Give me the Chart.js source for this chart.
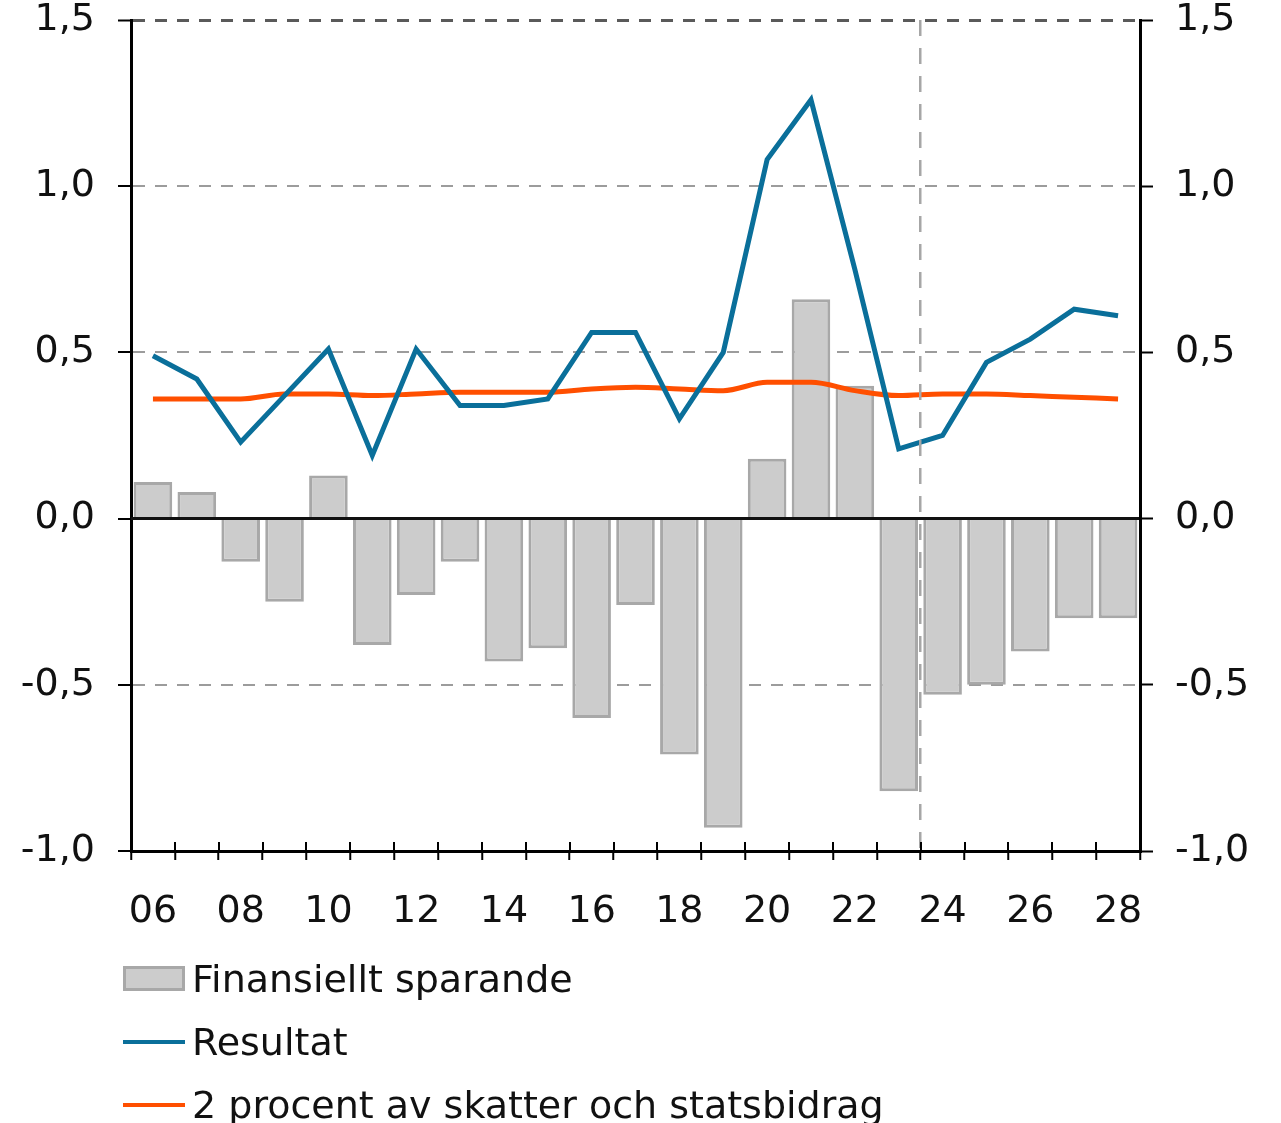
<!DOCTYPE html>
<html>
<head>
<meta charset="utf-8">
<script src="https://cdn.jsdelivr.net/npm/chart.js@4.4.1/dist/chart.umd.min.js"></script>
<style>
  html, body { margin: 0; padding: 0; background: #ffffff; }
  #wrap { position: relative; width: 1281px; height: 1123px; }
  #chart { position: absolute; left: 0; top: 0; }
  #legend { position: absolute; left: 123px; top: 947px; font-family: "DejaVu Sans", Verdana, sans-serif; font-size: 38px; color: #111; }
  .row { height: 63px; display: flex; align-items: center; }
  .sw { width: 62px; display: inline-block; box-sizing: border-box; }
  .txt { margin-left: 7px; white-space: nowrap; }
</style>
</head>
<body>
<div id="wrap">
  <canvas id="chart" width="1281" height="1123"></canvas>
  <div id="legend"></div>
</div>
<script>
// ---- data ----
const years = ['06','07','08','09','10','11','12','13','14','15','16','17','18','19','20','21','22','23','24','25','26','27','28'];
const sparande = [0.11, 0.08, -0.13, -0.25, 0.13, -0.38, -0.23, -0.13, -0.43, -0.39, -0.60, -0.26, -0.71, -0.93, 0.18, 0.66, 0.40, -0.82, -0.53, -0.50, -0.40, -0.30, -0.30];
const resultat = [0.49, 0.42, 0.23, 0.37, 0.51, 0.19, 0.51, 0.34, 0.34, 0.36, 0.56, 0.56, 0.30, 0.50, 1.08, 1.26, 0.75, 0.21, 0.25, 0.47, 0.54, 0.63, 0.61];
const tvaProcent = [0.36, 0.36, 0.36, 0.375, 0.375, 0.37, 0.375, 0.38, 0.38, 0.38, 0.39, 0.395, 0.39, 0.385, 0.41, 0.41, 0.385, 0.37, 0.375, 0.375, 0.37, 0.365, 0.36];
const yTickValues = [-1.0, -0.5, 0.0, 0.5, 1.0, 1.5];
const forecastStartIndex = 18; // boundary before '24'

const FONT = { family: "'DejaVu Sans', Verdana, sans-serif", size: 38, lineHeight: 1 };
const fmt = v => v.toFixed(1).replace('.', ',');

const innerTicks = {
  id: 'innerTicks',
  afterDraw(chart) {
    const xs = chart.scales.x, ctx = chart.ctx;
    const y = chart.chartArea.bottom;
    ctx.save();
    ctx.strokeStyle = '#000';
    ctx.lineWidth = 2;
    for (let i = 0; i <= years.length; i++) {
      const px = Math.round(xs.getPixelForValue(i - 0.5));
      ctx.beginPath();
      ctx.moveTo(px, y);
      ctx.lineTo(px, y - 9);
      ctx.stroke();
    }
    ctx.restore();
  }
};

const fixPad = s => { s.paddingTop = 18; s.paddingBottom = 18; };

const chart = new Chart(document.getElementById('chart'), {
  data: {
    labels: years,
    datasets: [
      {
        type: 'bar', label: 'Finansiellt sparande', data: sparande, yAxisID: 'y', order: 2,
        backgroundColor: '#cccccc', borderColor: '#a8a8a8', borderWidth: 3,
        barPercentage: 0.88, categoryPercentage: 1.0
      },
      {
        type: 'line', label: 'Resultat', data: resultat, yAxisID: 'y', order: 0,
        borderColor: '#0a6f9a', borderWidth: 5, pointRadius: 0, tension: 0, fill: false
      },
      {
        type: 'line', label: '2 procent av skatter och statsbidrag', data: tvaProcent, yAxisID: 'y', order: 1,
        borderColor: '#ff4f00', borderWidth: 5, pointRadius: 0, cubicInterpolationMode: 'monotone', fill: false
      }
    ]
  },
  options: {
    responsive: false,
    animation: false,
    events: [],
    layout: { padding: { top: 20, left: 0, right: 0, bottom: 192 } },
    plugins: { legend: { display: false }, tooltip: { enabled: false } },
    scales: {
      x: {
        type: 'category', offset: true,
        grid: {
          offset: true,
          color: c => (c.index === forecastStartIndex ? '#a6a6a6' : 'rgba(0,0,0,0)'),
          lineWidth: 2.5, tickColor: '#000', tickLength: 9, tickWidth: 2, z: 1
        },
        border: { color: '#000', width: 3, dash: [16, 12], z: 2 },
        ticks: {
          autoSkip: false, maxRotation: 0, minRotation: 0, padding: 33,
          font: FONT, color: '#111',
          callback: (v, i) => (i % 2 === 0 ? years[i] : '')
        },
        afterFit: s => { s.height = 80; }
      },
      y: {
        position: 'left', min: -1, max: 1.5,
        afterBuildTicks: s => { s.ticks = yTickValues.map(v => ({ value: v })); },
        ticks: { font: FONT, color: '#111', padding: 23, callback: v => fmt(v) },
        grid: {
          color: c => {
            const v = c.tick ? c.tick.value : null;
            if (v === 1.5) return '#5a5a5a';
            if (v === 0 || v === -1) return 'rgba(0,0,0,0)';
            return '#9c9c9c';
          },
          lineWidth: c => (c.tick && c.tick.value === 1.5 ? 3 : 2),
          tickColor: '#000', tickLength: 13, tickWidth: 2
        },
        border: { color: '#000', width: 3, dash: [12, 10] },
        afterFit: s => { s.width = 131; fixPad(s); }
      },
      y2: {
        position: 'right', min: -1, max: 1.5,
        afterBuildTicks: s => { s.ticks = yTickValues.map(v => ({ value: v })); },
        ticks: { font: FONT, color: '#111', padding: 22, callback: v => fmt(v) },
        grid: {
          color: c => (c.tick && c.tick.value === 0 ? '#111' : 'rgba(0,0,0,0)'),
          lineWidth: 3, tickColor: '#000', tickLength: 13, tickWidth: 2, z: 1
        },
        border: { color: '#000', width: 3, z: 2 },
        afterFit: s => { s.width = 141; fixPad(s); }
      }
    }
  },
  plugins: [innerTicks]
});

// HTML legend built from datasets
const legend = document.getElementById('legend');
const legendOrder = [0, 1, 2];
legendOrder.forEach(i => {
  const ds = chart.data.datasets[i];
  const row = document.createElement('div');
  row.className = 'row';
  const sw = document.createElement('span');
  sw.className = 'sw';
  if (ds.type === 'bar') {
    sw.style.height = '25px';
    sw.style.background = ds.backgroundColor;
    sw.style.border = '3px solid ' + ds.borderColor;
  } else {
    sw.style.height = '4px';
    sw.style.background = ds.borderColor;
  }
  const tx = document.createElement('span');
  tx.className = 'txt';
  tx.textContent = ds.label;
  row.appendChild(sw);
  row.appendChild(tx);
  legend.appendChild(row);
});
</script>
</body>
</html>
